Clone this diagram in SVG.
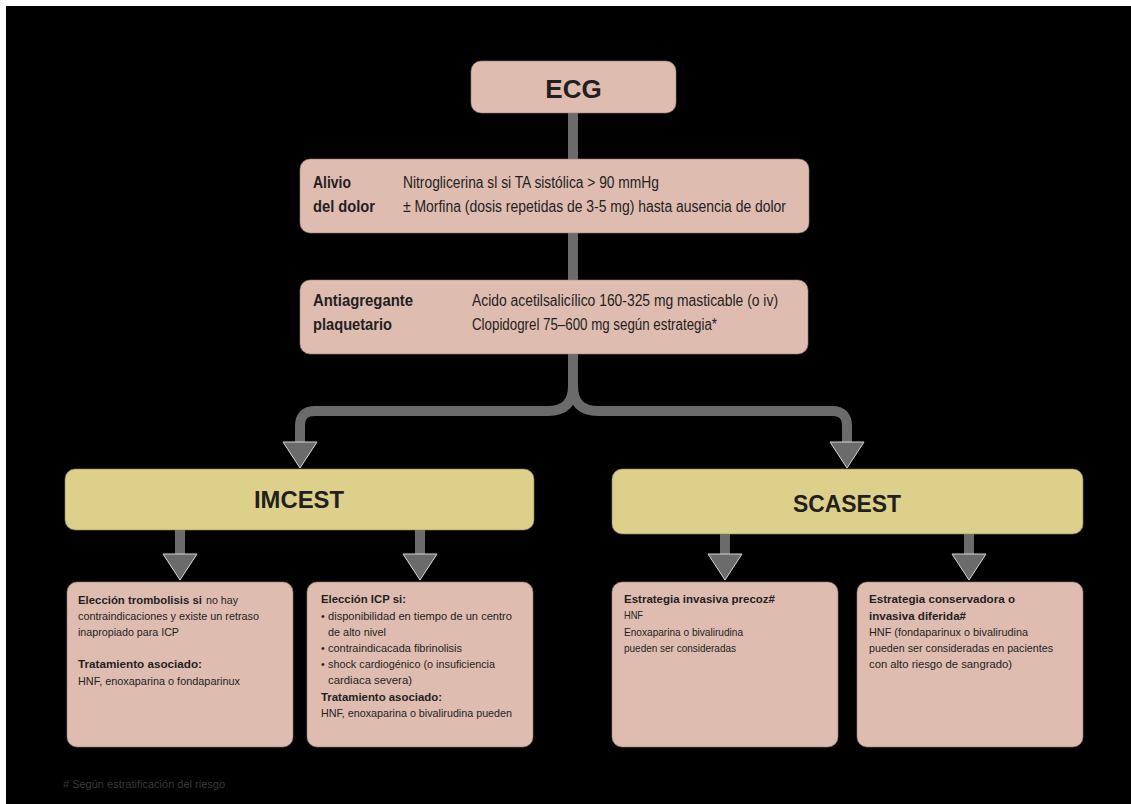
<svg xmlns="http://www.w3.org/2000/svg" width="1131" height="804" viewBox="0 0 1131 804">
<style>
.pink{fill:#dfbcb0;stroke:#9c8078;stroke-width:0.6}
.yel{fill:#dcd08a;stroke:#8f8758;stroke-width:0.6}
.t{font-family:"Liberation Sans",Arial,sans-serif;fill:#231f20}
.b{font-weight:bold}
.m{font-size:16px}
.s{font-size:10.5px}
.line{fill:none;stroke:#6b6b6b;stroke-width:10}
.tri{fill:#6b6b6b;stroke:#d6d6d6;stroke-width:1}
</style>
<rect x="0" y="0" width="1131" height="804" fill="#ffffff"/>
<rect x="6" y="6" width="1125" height="798" fill="#000000"/>
<g id="connectors">
<path class="line" d="M573,113 V159"/>
<path class="line" d="M573,233 V280"/>
<path class="line" d="M573,354 V386 Q573,411 548,411 H315 Q300,411 300,426 V444"/>
<path class="line" d="M573,386 Q573,411 598,411 H832 Q847,411 847,426 V444"/>
<path class="line" d="M180,530 V556"/>
<path class="line" d="M420,530 V556"/>
<path class="line" d="M725,534 V556"/>
<path class="line" d="M969,534 V556"/>
<polygon class="tri" points="283,442 317,442 300,468"/>
<polygon class="tri" points="830,442 864,442 847,468"/>
<polygon class="tri" points="163,554 197,554 180,580"/>
<polygon class="tri" points="403,554 437,554 420,580"/>
<polygon class="tri" points="708,554 742,554 725,580"/>
<polygon class="tri" points="952,554 986,554 969,580"/>
</g>
<g id="ecg">
<rect class="pink" x="471" y="61" width="205" height="52" rx="10"/>
<text class="t b" x="573.5" y="98" font-size="26" text-anchor="middle">ECG</text>
</g>
<g id="alivio">
<rect class="pink" x="300" y="159" width="509" height="74" rx="10"/>
<text class="t b m" x="313" y="188" textLength="38" lengthAdjust="spacingAndGlyphs">Alivio</text>
<text class="t b m" x="313" y="212" textLength="62" lengthAdjust="spacingAndGlyphs">del dolor</text>
<text class="t m" x="403" y="188" textLength="256" lengthAdjust="spacingAndGlyphs">Nitroglicerina sl si TA sistólica &gt; 90 mmHg</text>
<text class="t m" x="403" y="212" textLength="383" lengthAdjust="spacingAndGlyphs">± Morfina (dosis repetidas de 3-5 mg) hasta ausencia de dolor</text>
</g>
<g id="antiagregante">
<rect class="pink" x="300" y="280" width="508" height="74" rx="10"/>
<text class="t b m" x="313" y="306" textLength="100" lengthAdjust="spacingAndGlyphs">Antiagregante</text>
<text class="t b m" x="313" y="330" textLength="79" lengthAdjust="spacingAndGlyphs">plaquetario</text>
<text class="t m" x="472" y="306" textLength="306" lengthAdjust="spacingAndGlyphs">Acido acetilsalicílico 160-325 mg masticable (o iv)</text>
<text class="t m" x="472" y="330" textLength="245" lengthAdjust="spacingAndGlyphs">Clopidogrel 75–600 mg según estrategia*</text>
</g>
<g id="imcest">
<rect class="yel" x="65" y="469" width="469" height="61" rx="10"/>
<text class="t b" x="299" y="508" font-size="24" text-anchor="middle" textLength="90" lengthAdjust="spacingAndGlyphs">IMCEST</text>
</g>
<g id="scasest">
<rect class="yel" x="612" y="469" width="471" height="65" rx="10"/>
<text class="t b" x="847" y="512" font-size="24" text-anchor="middle" textLength="108" lengthAdjust="spacingAndGlyphs">SCASEST</text>
</g>
<g id="trombolisis">
<rect class="pink" x="67" y="582" width="226" height="165" rx="10"/>
<text class="t b s" x="78" y="604" textLength="124" lengthAdjust="spacingAndGlyphs">Elección trombolisis si</text>
<text class="t s" x="206" y="604" textLength="32" lengthAdjust="spacingAndGlyphs">no hay</text>
<text class="t s" x="78" y="620" textLength="181" lengthAdjust="spacingAndGlyphs">contraindicaciones y existe un retraso</text>
<text class="t s" x="78" y="636" textLength="101" lengthAdjust="spacingAndGlyphs">inapropiado para ICP</text>
<text class="t b s" x="78" y="668" textLength="124" lengthAdjust="spacingAndGlyphs">Tratamiento asociado:</text>
<text class="t s" x="78" y="685" textLength="162" lengthAdjust="spacingAndGlyphs">HNF, enoxaparina o fondaparinux</text>
</g>
<g id="icp">
<rect class="pink" x="307" y="582" width="226" height="165" rx="10"/>
<text class="t b s" x="321" y="603" textLength="85" lengthAdjust="spacingAndGlyphs">Elección ICP si:</text>
<text class="t s" x="321" y="620">•</text>
<text class="t s" x="328" y="620" textLength="184" lengthAdjust="spacingAndGlyphs">disponibilidad en tiempo de un centro</text>
<text class="t s" x="328" y="636" textLength="58" lengthAdjust="spacingAndGlyphs">de alto nivel</text>
<text class="t s" x="321" y="652">•</text>
<text class="t s" x="328" y="652" textLength="134" lengthAdjust="spacingAndGlyphs">contraindicacada fibrinolisis</text>
<text class="t s" x="321" y="668">•</text>
<text class="t s" x="328" y="668" textLength="167" lengthAdjust="spacingAndGlyphs">shock cardiogénico (o insuficiencia</text>
<text class="t s" x="328" y="684" textLength="84" lengthAdjust="spacingAndGlyphs">cardiaca severa)</text>
<text class="t b s" x="321" y="701" textLength="121" lengthAdjust="spacingAndGlyphs">Tratamiento asociado:</text>
<text class="t s" x="321" y="717" textLength="191" lengthAdjust="spacingAndGlyphs">HNF, enoxaparina o bivalirudina pueden</text>
</g>
<g id="precoz">
<rect class="pink" x="612" y="582" width="226" height="165" rx="10"/>
<text class="t b s" x="624" y="603" textLength="151" lengthAdjust="spacingAndGlyphs">Estrategia invasiva precoz#</text>
<text class="t s" x="624" y="619" textLength="19" lengthAdjust="spacingAndGlyphs">HNF</text>
<text class="t s" x="624" y="636" textLength="119" lengthAdjust="spacingAndGlyphs">Enoxaparina o bivalirudina</text>
<text class="t s" x="624" y="652" textLength="112" lengthAdjust="spacingAndGlyphs">pueden ser consideradas</text>
</g>
<g id="conservadora">
<rect class="pink" x="857" y="582" width="226" height="165" rx="10"/>
<text class="t b s" x="869" y="603" textLength="146" lengthAdjust="spacingAndGlyphs">Estrategia conservadora o</text>
<text class="t b s" x="869" y="620" textLength="97" lengthAdjust="spacingAndGlyphs">invasiva diferida#</text>
<text class="t s" x="869" y="636" textLength="159" lengthAdjust="spacingAndGlyphs">HNF (fondaparinux o bivalirudina</text>
<text class="t s" x="869" y="652" textLength="184" lengthAdjust="spacingAndGlyphs">pueden ser consideradas en pacientes</text>
<text class="t s" x="869" y="668" textLength="143" lengthAdjust="spacingAndGlyphs">con alto riesgo de sangrado)</text>
</g>
<g id="footer">
<text x="63" y="788" font-family="Liberation Sans, Arial, sans-serif" font-size="10" fill="#3a3a3a" textLength="162" lengthAdjust="spacingAndGlyphs"># Según estratificación del riesgo</text>
</g>
</svg>
